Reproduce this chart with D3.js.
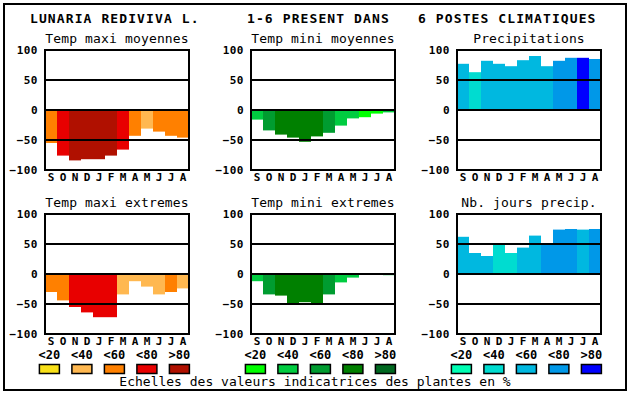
<!DOCTYPE html>
<html>
<head>
<meta charset="utf-8">
<script src="https://cdn.jsdelivr.net/npm/d3@7"></script>
<style>
  body { margin: 0; background: #fff; }
  svg { display: block; font-family: "DejaVu Sans Mono", monospace; }
</style>
</head>
<body>
<svg width="630" height="394"></svg>
<script>
// mois (septembre -> aout)
var months = ["S","O","N","D","J","F","M","A","M","J","J","A"];
var yTicks = [100, 50, 0, -50, -100];
var gridVals = [50, 0, -50];
var classLabels = ["<20","<40","<60","<80",">80"];

// palettes des classes
var palMaxi = ["#f8e018","#ffb850","#ff8000","#e80000","#b01000"];
var palMini = ["#00ff00","#00cc40","#009c30","#008000","#006820"];
var palPrec = ["#00ffb4","#00dcd0","#00b8e0","#0098e8","#0000ff"];

// valeurs
var maxiMoy    = [-55, -76, -84, -82, -82, -76, -66, -43, -31, -36, -43, -46];
var maxiMoyCls = [2, 3, 4, 4, 4, 4, 3, 2, 1, 2, 2, 2];
var miniMoy    = [-16, -34, -41, -46, -53, -44, -38, -26, -14, -12, -6, -4];
var miniMoyCls = [1, 2, 3, 3, 3, 3, 2, 1, 1, 0, 0, 1];
var precip     = [77, 63, 82, 77, 73, 83, 90, 73, 82, 87, 87, 85];
var precipCls  = [2, 1, 2, 2, 2, 2, 2, 2, 3, 3, 4, 3];
var maxiExt    = [-30, -44, -55, -64, -72, -72, -34, -12, -21, -34, -30, -24];
var maxiExtCls = [2, 2, 3, 3, 3, 3, 1, 1, 1, 1, 2, 1];
var miniExt    = [-12, -34, -36, -49, -47, -49, -34, -14, -6, 0, 0, -2];
var miniExtCls = [1, 2, 3, 3, 3, 3, 2, 1, 1, 1, 1, 1];
var jours      = [62, 35, 30, 49, 35, 44, 64, 49, 74, 75, 74, 75];
var joursCls   = [2, 2, 2, 1, 1, 2, 2, 3, 3, 3, 2, 3];

var titles = ["LUNARIA REDIVIVA L.", "1-6 PRESENT DANS", "6 POSTES CLIMATIQUES"];
var titleX = [30, 247, 418];

var panels = [
  {name: "Temp maxi moyennes", values: maxiMoy, cls: maxiMoyCls, pal: palMaxi, col: 0, row: 0},
  {name: "Temp mini moyennes", values: miniMoy, cls: miniMoyCls, pal: palMini, col: 1, row: 0},
  {name: "Precipitations",     values: precip,  cls: precipCls,  pal: palPrec, col: 2, row: 0},
  {name: "Temp maxi extremes", values: maxiExt, cls: maxiExtCls, pal: palMaxi, col: 0, row: 1},
  {name: "Temp mini extremes", values: miniExt, cls: miniExtCls, pal: palMini, col: 1, row: 1},
  {name: "Nb. jours precip.",  values: jours,   cls: joursCls,   pal: palPrec, col: 2, row: 1}
];
var legendPals = [palMaxi, palMini, palPrec];

var svg = d3.select("svg");
var colX = [45, 251, 457], rowY = [50, 214];
var pw = 144, ph = 120;

svg.append("rect").attr("x", 4).attr("y", 4).attr("width", 622).attr("height", 386)
   .attr("fill", "#fff").attr("stroke", "#000").attr("stroke-width", 2);

svg.selectAll("text.title").data(titles).enter().append("text")
   .attr("class", "title")
   .attr("x", function(d, i) { return titleX[i]; })
   .attr("y", 23)
   .attr("font-size", 13).attr("font-weight", "bold").attr("letter-spacing", 1.1)
   .text(function(d) { return d; });

var x = d3.scaleBand().domain(d3.range(12)).range([0, pw]).padding(0);
var y = d3.scaleLinear().domain([-100, 100]).range([ph, 0]);

panels.forEach(function(p) {
  var g = svg.append("g")
     .attr("transform", "translate(" + colX[p.col] + "," + rowY[p.row] + ")");

  g.append("text")
   .attr("x", pw / 2).attr("y", -7)
   .attr("text-anchor", "middle")
   .attr("font-size", 13).attr("letter-spacing", 0.15)
   .text(p.name);

  g.selectAll("rect.bar").data(p.values).enter().append("rect")
   .attr("class", "bar")
   .attr("x", function(d, i) { return x(i); })
   .attr("width", x.bandwidth())
   .attr("y", function(d) { return y(Math.max(0, d)); })
   .attr("height", function(d) { return Math.abs(y(d) - y(0)); })
   .attr("fill", function(d, i) { return p.pal[p.cls[i]]; });

  g.selectAll("line.grid").data(gridVals).enter().append("line")
   .attr("class", "grid")
   .attr("x1", 0).attr("x2", pw)
   .attr("y1", function(d) { return y(d); })
   .attr("y2", function(d) { return y(d); })
   .attr("stroke", "#000").attr("stroke-width", 2);

  g.append("rect").attr("width", pw).attr("height", ph)
   .attr("fill", "none").attr("stroke", "#000").attr("stroke-width", 2);

  var ya = g.append("g")
   .call(d3.axisLeft(y).tickValues(yTicks).tickSize(0).tickPadding(7));
  ya.select(".domain").remove();
  ya.selectAll("text")
   .attr("font-family", "DejaVu Sans Mono").attr("font-size", 11)
   .attr("font-weight", "bold").attr("letter-spacing", 0.5).attr("fill", "#000");

  var xa = g.append("g").attr("transform", "translate(0," + ph + ")")
   .call(d3.axisBottom(x).tickSize(0).tickPadding(3)
     .tickFormat(function(i) { return months[i]; }));
  xa.select(".domain").remove();
  xa.selectAll("text")
   .attr("font-family", "DejaVu Sans Mono").attr("font-size", 11)
   .attr("font-weight", "bold").attr("fill", "#000");
});

// legende des classes
var lx = d3.scaleLinear().domain([0, 4]).range([4.4, 134.4]);
legendPals.forEach(function(pal, c) {
  var g = svg.append("g").attr("transform", "translate(" + colX[c] + ",0)");
  g.selectAll("text").data(classLabels).enter().append("text")
   .attr("x", function(d, i) { return lx(i); })
   .attr("y", 359)
   .attr("text-anchor", "middle")
   .attr("font-size", 12).attr("font-weight", "bold")
   .text(function(d) { return d; });
  g.selectAll("rect").data(pal).enter().append("rect")
   .attr("x", function(d, i) { return lx(i) - 10; })
   .attr("y", 364.5)
   .attr("width", 20).attr("height", 9)
   .attr("fill", function(d) { return d; })
   .attr("stroke", "#000").attr("stroke-width", 1.5);
});

svg.append("text")
   .attr("x", 315).attr("y", 386)
   .attr("text-anchor", "middle")
   .attr("font-size", 13)
   .text("Echelles des valeurs indicatrices des plantes en %");
</script>
</body>
</html>
